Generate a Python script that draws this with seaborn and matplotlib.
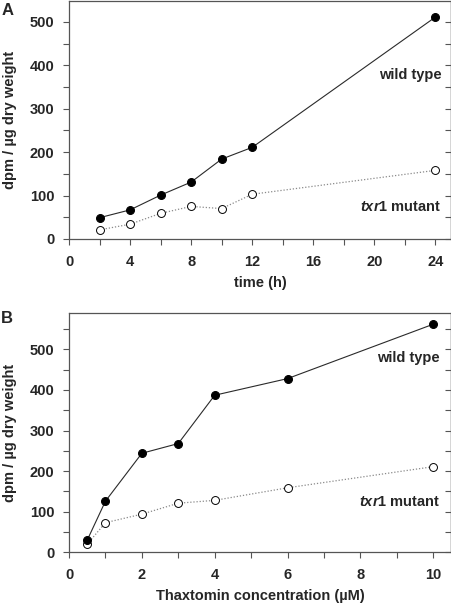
import pandas as pd
import seaborn as sns
import matplotlib.pyplot as plt
from matplotlib.ticker import MultipleLocator

# Datos del panel A (tiempo)
time_h = [2, 4, 6, 8, 10, 12, 24]
wt_time = [49, 67, 101, 131, 184, 211, 511]
mut_time = [21, 34, 59, 75, 70, 103, 158]

# Datos del panel B (concentracion)
conc_um = [0.5, 1, 2, 3, 4, 6, 10]
wt_conc = [30, 126, 244, 268, 387, 428, 562]
mut_conc = [20, 73, 94, 121, 128, 159, 211]

ylabel = "dpm / µg dry weight"
wt_label = "wild type"
mut_label = r"$\bf{\it{txr}}$1 mutant"

sns.set_style("ticks")
plt.rcParams['font.family'] = ['Liberation Sans', 'DejaVu Sans']
plt.rcParams['font.weight'] = 'bold'
plt.rcParams['mathtext.fontset'] = 'custom'
plt.rcParams['mathtext.it'] = 'Liberation Sans:italic:bold'
plt.rcParams['mathtext.bf'] = 'Liberation Sans:bold'
plt.rcParams['mathtext.rm'] = 'Liberation Sans:bold'

fig = plt.figure(figsize=(4.52, 6.05), dpi=100)
axA = fig.add_axes([0.1527, 0.6050, 0.8460, 0.3933])
axB = fig.add_axes([0.1527, 0.0871, 0.8460, 0.3951])

spine_col = '#555555'


def draw_panel(ax, x, wt, mut, xlim, ylim, xmaj, xmin, xlabel, txt_wt, txt_mut):
    df = pd.DataFrame({'x': x, 'wt': wt, 'mut': mut})
    sns.lineplot(data=df, x='x', y='mut', ax=ax, color='#8a8a8a', lw=0.9,
                 linestyle=(0, (1, 1.5)), marker='o', markersize=5.7,
                 markerfacecolor='white', markeredgecolor='black', markeredgewidth=0.7)
    sns.lineplot(data=df, x='x', y='wt', ax=ax, color='#2a2a2a', lw=0.8,
                 marker='o', markersize=5.7, markerfacecolor='black',
                 markeredgecolor='black')
    ax.set_xlim(*xlim)
    ax.set_ylim(*ylim)
    ax.xaxis.set_major_locator(MultipleLocator(xmaj))
    ax.xaxis.set_minor_locator(MultipleLocator(xmin))
    ax.yaxis.set_major_locator(MultipleLocator(100))
    ax.yaxis.set_minor_locator(MultipleLocator(50))
    for s in ax.spines.values():
        s.set_visible(True)
        s.set_color(spine_col)
        s.set_linewidth(0.9)
    ax.tick_params(axis='both', which='both', color=spine_col, width=0.8,
                   labelsize=10.5)
    ax.tick_params(axis='x', which='both', length=4, direction='out', pad=7.5)
    ax.tick_params(axis='y', which='both', length=4.5, direction='out', pad=6)
    for lab in ax.get_xticklabels() + ax.get_yticklabels():
        lab.set_fontweight('bold')

    # ticks hacia dentro en el eje derecho
    sec = ax.secondary_yaxis('right')
    sec.yaxis.set_major_locator(MultipleLocator(50))
    sec.tick_params(axis='y', which='both', direction='in', length=4,
                    width=0.8, color=spine_col, labelright=False)
    sec.spines['right'].set_color(spine_col)
    sec.spines['right'].set_linewidth(0.9)

    ax.set_xlabel(xlabel, fontsize=10.5, fontweight='bold', labelpad=5)
    ax.set_ylabel(ylabel, fontsize=10.5, fontweight='bold')
    ax.yaxis.set_label_coords(-0.135, 0.5)
    ax.text(txt_wt[0], txt_wt[1], wt_label, fontsize=10.5, fontweight='bold',
            ha='right', va='center')
    ax.text(txt_mut[0], txt_mut[1], mut_label, fontsize=10.5, fontweight='bold',
            ha='right', va='center')


draw_panel(axA, time_h, wt_time, mut_time, (0, 25.05), (0, 548), 4, 2,
           "time (h)", (24.4, 378), (24.4, 74))
draw_panel(axB, conc_um, wt_conc, mut_conc, (0, 10.5), (0, 589), 2, 1,
           "Thaxtomin concentration (µM)", (10.17, 478), (10.2, 123))

# letras de panel
fig.text(0.003, 0.995, "A", fontsize=12, fontweight='bold', ha='left', va='top')
fig.text(0.003, 0.486, "B", fontsize=12, fontweight='bold', ha='left', va='top')

fig.savefig("out.png", dpi=100)
